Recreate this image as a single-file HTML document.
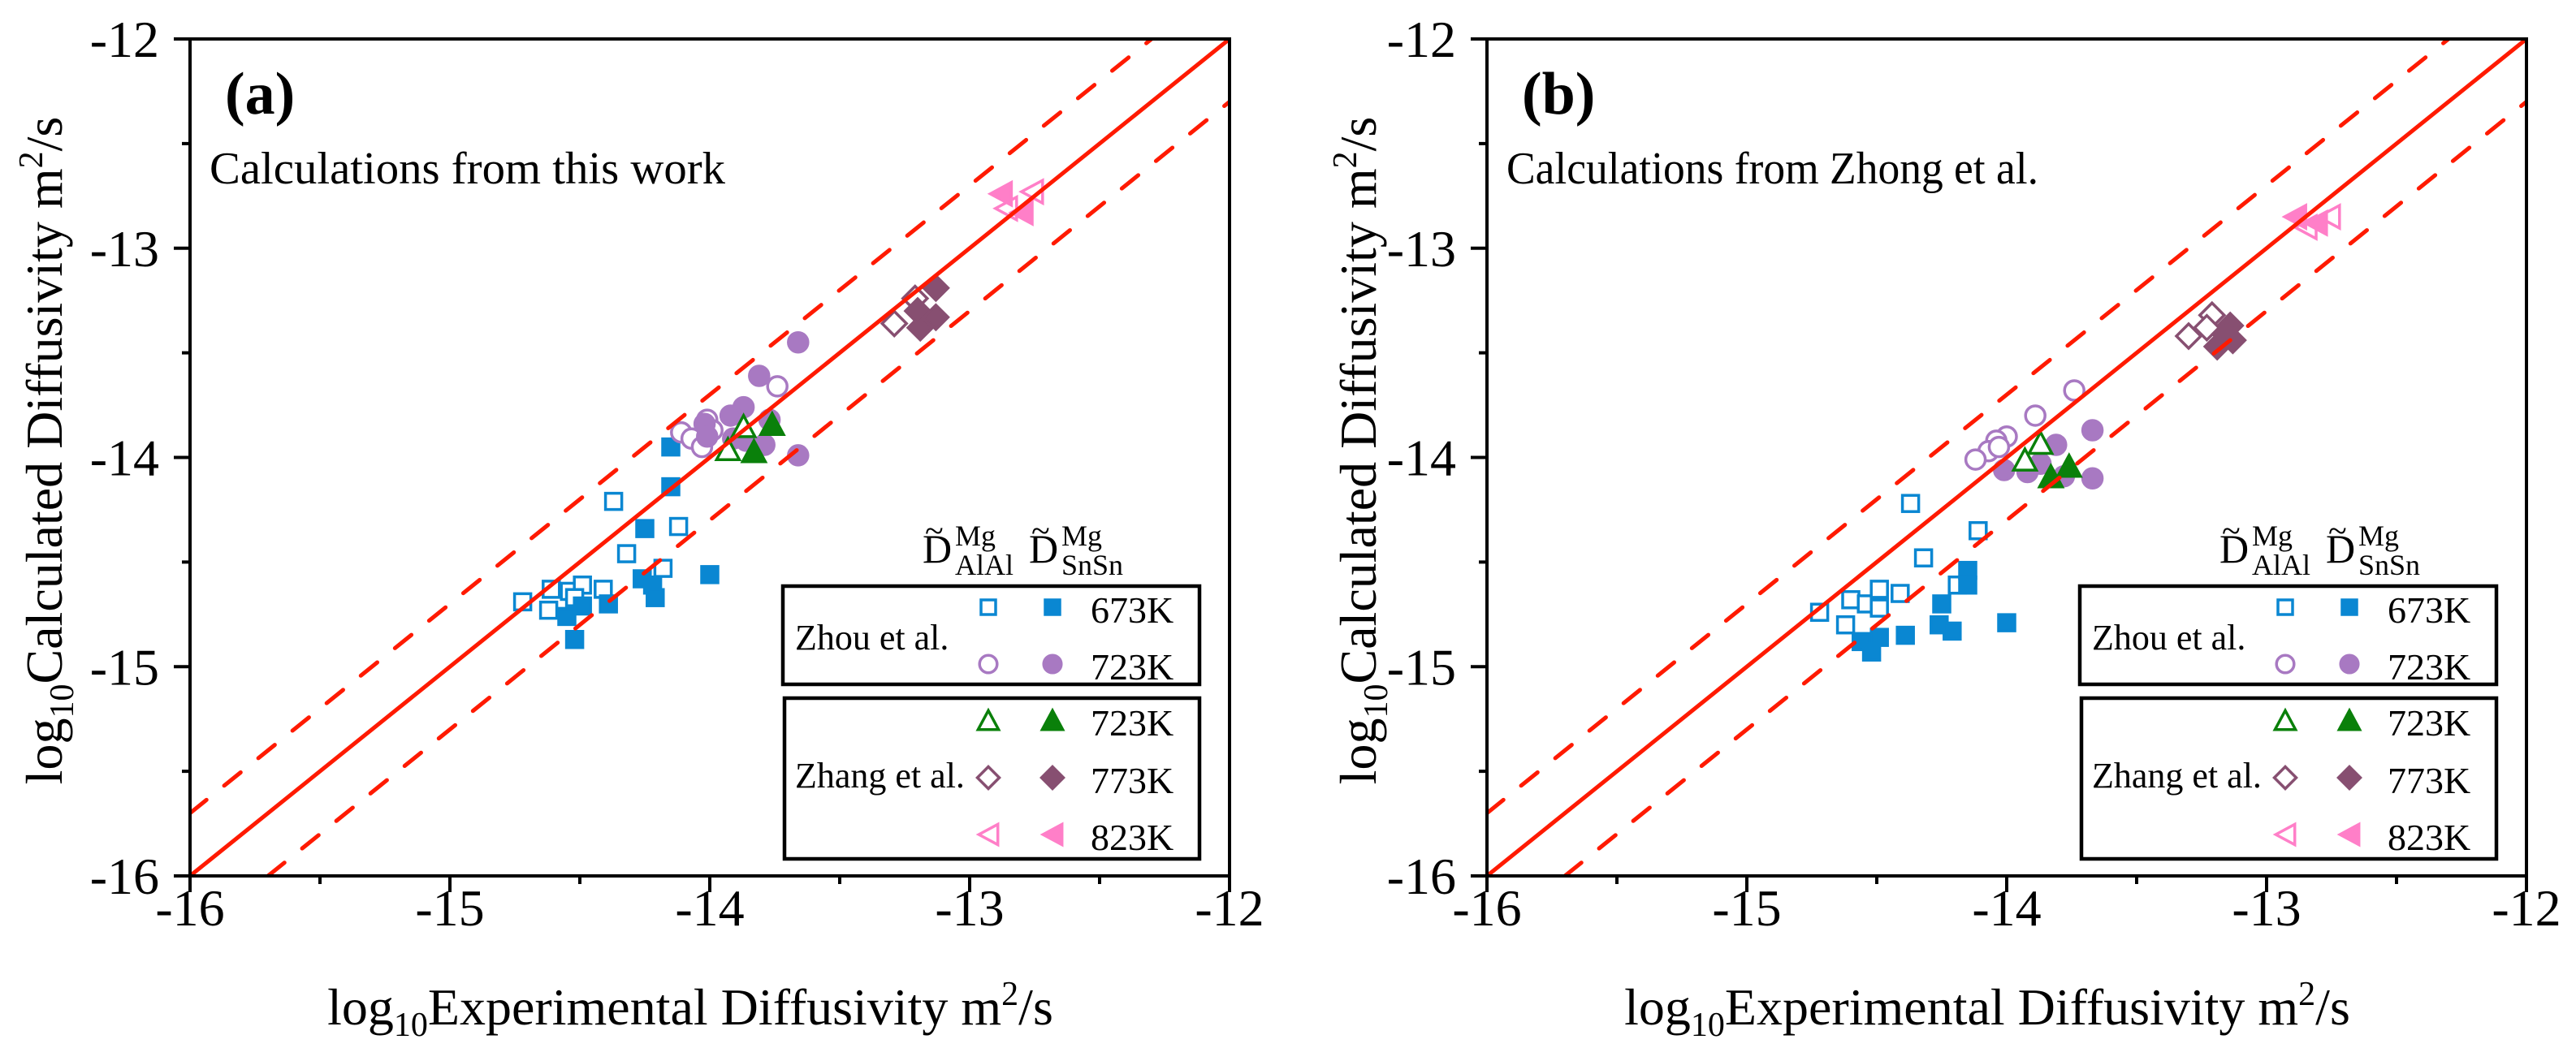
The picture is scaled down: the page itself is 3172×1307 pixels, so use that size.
<!DOCTYPE html>
<html>
<head>
<meta charset="utf-8">
<style>
  html,body{margin:0;padding:0;background:#fff;}
  svg{display:block;}
  svg, text, tspan{font-family:"Liberation Serif","Times New Roman",serif;}
  text{fill:#000;}
</style>
</head>
<body>
<svg id="chart" xmlns="http://www.w3.org/2000/svg" width="3172" height="1307" viewBox="0 0 3172 1307" font-family="Liberation Serif, serif"></svg>
<script>
// ---------- Panel (a) data ----------
const a_sqO_x = [-14.72,-14.62,-14.61,-14.54,-14.49,-14.41,-14.37,-14.32,-14.12,-14.18,-14.52];
const a_sqO_y = [-14.69,-14.73,-14.63,-14.64,-14.61,-14.63,-14.21,-14.46,-14.33,-14.53,-14.67];
const a_sqF_x = [-14.15,-14.15,-14.25,-14.26,-14.22,-14.21,-14.00,-14.39,-14.49,-14.55,-14.52];
const a_sqF_y = [-13.95,-14.14,-14.34,-14.58,-14.61,-14.67,-14.56,-14.70,-14.71,-14.76,-14.87];
const a_cirO_x = [-13.74,-14.11,-14.07,-14.01,-14.03,-13.99];
const a_cirO_y = [-13.66,-13.88,-13.91,-13.82,-13.95,-13.87];
const a_cirF_x = [-13.66,-13.81,-13.87,-13.92,-14.02,-14.01,-13.77,-13.79,-13.86,-13.91,-13.66];
const a_cirF_y = [-13.45,-13.61,-13.76,-13.80,-13.84,-13.90,-13.82,-13.94,-13.92,-13.91,-13.99];
const a_triO_x = [-13.87,-13.93];
const a_triO_y = [-13.85,-13.96];
const a_triF_x = [-13.76,-13.83];
const a_triF_y = [-13.84,-13.97];
const a_diaO_x = [-13.29,-13.21];
const a_diaO_y = [-13.36,-13.24];
const a_diaF_x = [-13.13,-13.13,-13.19,-13.20];
const a_diaF_y = [-13.19,-13.33,-13.38,-13.30];
const a_lefO_x = [-12.76,-12.86];
const a_lefO_y = [-12.73,-12.81];
const a_lefF_x = [-12.88,-12.80];
const a_lefF_y = [-12.74,-12.83];
// ---------- Panel (b) data ----------
const b_sqO_x = [-14.72,-14.62,-14.60,-14.54,-14.49,-14.49,-14.41,-14.37,-14.32,-14.11,-14.19];
const b_sqO_y = [-14.74,-14.80,-14.68,-14.70,-14.63,-14.72,-14.65,-14.22,-14.48,-14.35,-14.61];
const b_sqF_x = [-14.15,-14.15,-14.25,-14.26,-14.21,-14.00,-14.39,-14.49,-14.56,-14.52];
const b_sqF_y = [-14.54,-14.61,-14.70,-14.80,-14.83,-14.79,-14.85,-14.86,-14.88,-14.93];
const b_cirO_x = [-13.74,-13.89,-14.00,-14.04,-14.07,-14.12,-14.03];
const b_cirO_y = [-13.68,-13.80,-13.90,-13.92,-13.97,-14.01,-13.95];
const b_cirF_x = [-13.67,-13.67,-14.01,-13.92,-13.81,-13.87,-13.78];
const b_cirF_y = [-13.87,-14.10,-14.06,-14.07,-13.94,-14.03,-14.09];
const b_triO_x = [-13.87,-13.93];
const b_triO_y = [-13.93,-14.01];
const b_triF_x = [-13.76,-13.83];
const b_triF_y = [-14.04,-14.09];
const b_diaO_x = [-13.30,-13.21,-13.23];
const b_diaO_y = [-13.42,-13.32,-13.38];
const b_diaF_x = [-13.14,-13.13,-13.19,-13.16];
const b_diaF_y = [-13.37,-13.44,-13.47,-13.41];
const b_lefO_x = [-12.76,-12.85];
const b_lefO_y = [-12.85,-12.90];
const b_lefF_x = [-12.89,-12.81];
const b_lefF_y = [-12.85,-12.88];
// ---------- axes / reference lines ----------
const xTicks = [-16,-15,-14,-13,-12];
const yTicks = [-16,-15,-14,-13,-12];
const bandOffset = [0.3];
const legendTemps = ["673K","723K","723K","773K","823K"];

const NS = "http://www.w3.org/2000/svg";
const svg = document.getElementById("chart");
const C = {blue:"#0a87d2", purple:"#a879c2", green:"#0a800a", dia:"#874f71", pink:"#ff7fc8", red:"#ff1a00"};
const FF = "Liberation Serif, Times New Roman, serif";

function el(tag, attrs, parent){
  const e = document.createElementNS(NS, tag);
  for (const k in attrs) e.setAttribute(k, attrs[k]);
  if (tag === "text") e.setAttribute("font-family", FF);
  (parent||svg).appendChild(e);
  return e;
}

function marker(g, shape, cx, cy, color, filled, s){
  s = s || 1;
  const fill = filled ? color : "#fff";
  const sw = 3.5;
  let m;
  if (shape === "sq") {
    const h = 10*s;
    m = el("rect", {x:cx-h, y:cy-h, width:2*h, height:2*h, fill:fill, stroke:color, "stroke-width":sw}, g);
  } else if (shape === "cir") {
    m = el("circle", {cx:cx, cy:cy, r:12*s, fill:fill, stroke:color, "stroke-width":sw}, g);
  } else if (shape === "tri") {
    const w = 14*s, h = 13*s;
    m = el("polygon", {points:`${cx},${cy-h} ${cx+w},${cy+h} ${cx-w},${cy+h}`, fill:fill, stroke:color, "stroke-width":sw}, g);
  } else if (shape === "dia") {
    const h = 15*s;
    m = el("polygon", {points:`${cx},${cy-h} ${cx+h},${cy} ${cx},${cy+h} ${cx-h},${cy}`, fill:fill, stroke:color, "stroke-width":sw}, g);
  } else {
    const w = 13*s, h = 14*s;
    m = el("polygon", {points:`${cx-w},${cy} ${cx+w},${cy-h} ${cx+w},${cy+h}`, fill:fill, stroke:color, "stroke-width":sw}, g);
  }
  return m;
}

function drawPanel(p){
  const X0 = p.x0, W = 1280, Y0 = 48, H = 1031;
  const xs = v => X0 + (v + 16) / 4 * W;
  const ys = v => Y0 + (-12 - v) / 4 * H;
  const g = el("g", {});
  
  

  const clipId = "clip-" + p.id;
  const defs = el("defs", {}, g);
  const cp = el("clipPath", {id:clipId}, defs);
  el("rect", {x:X0, y:Y0, width:W, height:H}, cp);

  const mg = el("g", {}, g);
  
  
  const series = [
    ["sq", C.blue, false, p.d.sqO_x, p.d.sqO_y, "zhou-673k-alal"],
    ["sq", C.blue, true,  p.d.sqF_x, p.d.sqF_y, "zhou-673k-snsn"],
    ["cir", C.purple, false, p.d.cirO_x, p.d.cirO_y, "zhou-723k-alal"],
    ["cir", C.purple, true,  p.d.cirF_x, p.d.cirF_y, "zhou-723k-snsn"],
    ["tri", C.green, false, p.d.triO_x, p.d.triO_y, "zhang-723k-alal"],
    ["tri", C.green, true,  p.d.triF_x, p.d.triF_y, "zhang-723k-snsn"],
    ["dia", C.dia, false, p.d.diaO_x, p.d.diaO_y, "zhang-773k-alal"],
    ["dia", C.dia, true,  p.d.diaF_x, p.d.diaF_y, "zhang-773k-snsn"],
    ["lef", C.pink, false, p.d.lefO_x, p.d.lefO_y, "zhang-823k-alal"],
    ["lef", C.pink, true,  p.d.lefF_x, p.d.lefF_y, "zhang-823k-snsn"]
  ];
  series.forEach(s => {
    for (let i = 0; i < s[3].length; i++) {
      const m = marker(mg, s[0], xs(s[3][i]), ys(s[4][i]), s[1], s[2]);
      
      
    }
  });

  const lg = el("g", {"clip-path":`url(#${clipId})`}, g);
  const diag = el("line", {x1:xs(-16), y1:ys(-16), x2:xs(-12), y2:ys(-12), stroke:C.red, "stroke-width":5}, lg);
  
  
  const off = bandOffset[0];
  const up = el("line", {x1:xs(-16), y1:ys(-16+off), x2:xs(-12), y2:ys(-12+off), stroke:C.red, "stroke-width":5, "stroke-dasharray":"26 28", "stroke-linecap":"round"}, lg);
  
  
  const lo = el("line", {x1:xs(-16+off), y1:ys(-16), x2:xs(-12), y2:ys(-12-off), stroke:C.red, "stroke-width":5, "stroke-dasharray":"26 28", "stroke-linecap":"round"}, lg);
  
  

  const fr = el("rect", {x:X0, y:Y0, width:W, height:H, fill:"none", stroke:"#000", "stroke-width":4}, g);
  
  

  xTicks.forEach((t, i) => {
    el("line", {x1:xs(t), y1:Y0+H, x2:xs(t), y2:Y0+H+20, stroke:"#000", "stroke-width":4}, g);
    if (i < xTicks.length - 1) el("line", {x1:xs(t+0.5), y1:Y0+H, x2:xs(t+0.5), y2:Y0+H+10, stroke:"#000", "stroke-width":4}, g);
    const tx = el("text", {x:xs(t), y:1140, "font-size":64, "text-anchor":"middle"}, g);
    tx.textContent = String(t);
    
    
  });
  yTicks.forEach((t, i) => {
    el("line", {x1:X0-20, y1:ys(t), x2:X0, y2:ys(t), stroke:"#000", "stroke-width":4}, g);
    if (i < yTicks.length - 1) el("line", {x1:X0-10, y1:ys(t+0.5), x2:X0, y2:ys(t+0.5), stroke:"#000", "stroke-width":4}, g);
    const ty = el("text", {x:X0-38, y:ys(t)+22, "font-size":64, "text-anchor":"end"}, g);
    ty.textContent = String(t);
    
    
  });

  const xt = el("text", {x:X0+640-24, y:1262, "font-size":64, "text-anchor":"middle"}, g);
  xt.innerHTML = 'log<tspan font-size="42" dy="14">10</tspan><tspan dy="-14">Experimental Diffusivity m</tspan><tspan font-size="42" dy="-24">2</tspan><tspan dy="24">/s</tspan>';
  
  
  const yt = el("text", {x:0, y:0, "font-size":64, "text-anchor":"middle", transform:`translate(${p.ytx},555) rotate(-90)`}, g);
  yt.innerHTML = 'log<tspan font-size="42" dy="14">10</tspan><tspan dy="-14">Calculated Diffusivity m</tspan><tspan font-size="42" dy="-24">2</tspan><tspan dy="24">/s</tspan>';
  
  

  const pl = el("text", {x:X0+43, y:140, "font-size":74, "font-weight":"bold"}, g);
  pl.textContent = p.label;
  
  
  const st = el("text", {x:X0+24, y:226, "font-size":56, textLength:p.subLen, lengthAdjust:"spacingAndGlyphs"}, g);
  st.textContent = p.sub;
  
  

  const o = X0 - 234;
  const leg = el("g", {}, g);
  
  
  const hdr = el("g", {}, leg);
  
  
  [[1136,"AlAl"],[1267,"SnSn"]].forEach(h => {
    const d = el("text", {x:o+h[0], y:693, "font-size":50}, hdr); d.textContent = "D";
    const tl = el("text", {x:o+h[0]+3, y:668, "font-size":42}, hdr); tl.textContent = "~";
    const sp = el("text", {x:o+h[0]+40, y:672, "font-size":36}, hdr); sp.textContent = "Mg";
    const sb = el("text", {x:o+h[0]+40, y:708, "font-size":36}, hdr); sb.textContent = h[1];
  });
  const b1 = el("rect", {x:o+964, y:722, width:513, height:121, fill:"none", stroke:"#000", "stroke-width":4.5}, leg);
  
  
  const b2 = el("rect", {x:o+966, y:860, width:511, height:198, fill:"none", stroke:"#000", "stroke-width":4.5}, leg);
  
  
  const zt = el("text", {x:o+979, y:800, "font-size":44}, leg); zt.textContent = "Zhou et al.";
  
  
  const zh = el("text", {x:o+979, y:970, "font-size":44}, leg); zh.textContent = "Zhang et al.";
  
  
  const rowY = [748, 818, 887, 958, 1028];
  const rowShape = [["sq",C.blue],["cir",C.purple],["tri",C.green],["dia",C.dia],["lef",C.pink]];
  legendTemps.forEach((t, i) => {
    const en = el("g", {}, leg);
    
    
    marker(en, rowShape[i][0], o+1217, rowY[i], rowShape[i][1], false, 0.9);
    marker(en, rowShape[i][0], o+1296, rowY[i], rowShape[i][1], true, 0.9);
    const lt = el("text", {x:o+1343, y:rowY[i]+19, "font-size":46}, en); lt.textContent = t;
  });
}

drawPanel({id:"a", x0:234, label:"(a)", sub:"Calculations from this work", subLen:635, ytx:76,
  d:{sqO_x:a_sqO_x,sqO_y:a_sqO_y,sqF_x:a_sqF_x,sqF_y:a_sqF_y,cirO_x:a_cirO_x,cirO_y:a_cirO_y,cirF_x:a_cirF_x,cirF_y:a_cirF_y,
     triO_x:a_triO_x,triO_y:a_triO_y,triF_x:a_triF_x,triF_y:a_triF_y,diaO_x:a_diaO_x,diaO_y:a_diaO_y,diaF_x:a_diaF_x,diaF_y:a_diaF_y,
     lefO_x:a_lefO_x,lefO_y:a_lefO_y,lefF_x:a_lefF_x,lefF_y:a_lefF_y}});
drawPanel({id:"b", x0:1831, label:"(b)", sub:"Calculations from Zhong et al.", subLen:655, ytx:1694,
  d:{sqO_x:b_sqO_x,sqO_y:b_sqO_y,sqF_x:b_sqF_x,sqF_y:b_sqF_y,cirO_x:b_cirO_x,cirO_y:b_cirO_y,cirF_x:b_cirF_x,cirF_y:b_cirF_y,
     triO_x:b_triO_x,triO_y:b_triO_y,triF_x:b_triF_x,triF_y:b_triF_y,diaO_x:b_diaO_x,diaO_y:b_diaO_y,diaF_x:b_diaF_x,diaF_y:b_diaF_y,
     lefO_x:b_lefO_x,lefO_y:b_lefO_y,lefF_x:b_lefF_x,lefF_y:b_lefF_y}});
</script>
</body>
</html>
